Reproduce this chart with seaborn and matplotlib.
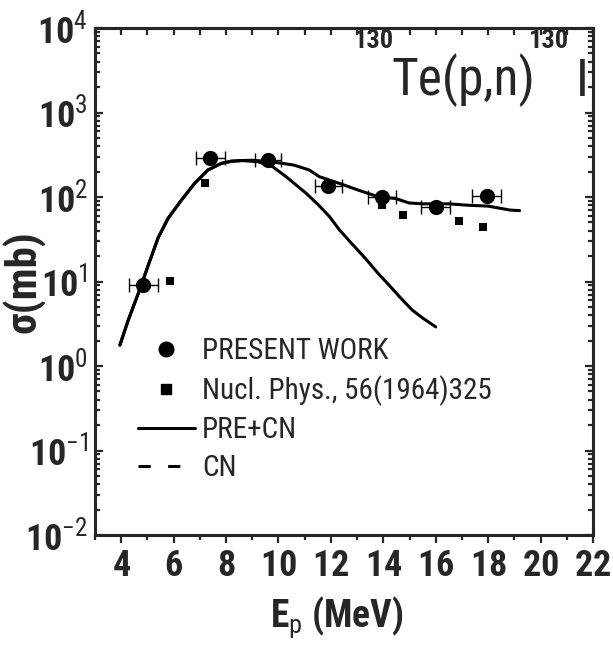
import numpy as np
import matplotlib
matplotlib.use("Agg")
import matplotlib.pyplot as plt
import seaborn as sns
from matplotlib import font_manager
from matplotlib.lines import Line2D
from matplotlib.ticker import LogLocator, MultipleLocator, FuncFormatter, NullFormatter

# ---- data -------------------------------------------------------------
# 130Te(p,n)130I excitation function, this work
present_e = [4.85, 7.4, 9.6, 11.9, 13.95, 16.0, 17.95]          # MeV
present_de = [0.55, 0.55, 0.50, 0.52, 0.55, 0.55, 0.55]         # MeV
present_sigma = [9.1, 287, 272, 136, 99, 77, 103]               # mb

# earlier measurement, Nucl. Phys. 56 (1964) 325
lit_e = [5.85, 7.2, 13.95, 14.75, 16.9, 17.8]
lit_sigma = [10.2, 148, 80, 62, 52, 44.5]

# model calculation: pre-equilibrium + compound nucleus
pre_cn_e = [3.95, 4.27, 4.65, 5.03, 5.41, 5.79, 6.3, 6.8, 7.31, 7.82, 8.2, 8.6,
            9.0, 9.65, 10.16, 10.6, 11.17, 11.56, 12.32, 13.2, 13.84, 14.47,
            14.98, 15.5, 16.5, 17.2, 18.0, 18.84, 19.2]
pre_cn_sigma = [1.77, 3.5, 7.2, 15.5, 33, 56, 92, 145, 209, 250, 265, 270,
                272, 262, 250, 238, 209, 174, 145, 116, 100, 96,
                85, 83, 83, 80, 78, 70, 69]

# model calculation: compound nucleus only
cn_e = [3.95, 4.27, 4.65, 5.03, 5.41, 5.79, 6.3, 6.8, 7.31, 7.82, 8.2, 8.6,
        9.2, 9.78, 10.29, 11.05, 11.5, 11.94, 12.32, 12.8, 13.3, 13.8, 14.3,
        14.7, 15.1, 15.5, 16.0]
cn_sigma = [1.77, 3.5, 7.2, 15.5, 33, 56, 92, 145, 209, 250, 265, 270,
            262, 228, 174, 111, 82, 59, 41, 28, 19, 12.5, 8.5,
            6.2, 4.6, 3.7, 2.9]

legend_labels = ["PRESENT WORK", "Nucl. Phys., 56(1964)325", "PRE+CN", "CN"]
x_label = r"$\mathbf{E}_{\mathrm{p}}$ (MeV)"
y_label = "σ(mb)"

# ---- style ------------------------------------------------------------
sns.set_style("ticks")
names = {f.name for f in font_manager.fontManager.ttflist}
narrow_choices = ["Liberation Sans Narrow", "Arial Narrow", "Roboto Condensed",
                  "Open Sans Condensed", "Nimbus Sans Narrow"]
family = next((n for n in narrow_choices if n in names), None)
if family is not None:
    fs = dict(tick=26, legend=21, title=37, sup=19, xlab=27, ylab=31)
else:
    family = "Liberation Sans"
    fs = dict(tick=23, legend=18.5, title=33, sup=16, xlab=23.5, ylab=26.5)
plt.rcParams["font.family"] = [family, "DejaVu Sans"]
plt.rcParams["mathtext.fontset"] = "custom"
plt.rcParams["mathtext.rm"] = family
plt.rcParams["mathtext.bf"] = f"{family}:bold"
plt.rcParams["mathtext.it"] = f"{family}:italic"

fig = plt.figure(figsize=(6.13, 6.54), dpi=100)
ax = fig.add_axes([95 / 613, 1 - 535 / 654, 498 / 613, 507 / 654])
ax.set_yscale("log")

lw = 2.2
sns.lineplot(x=pre_cn_e, y=pre_cn_sigma, ax=ax, color="black", lw=lw,
             sort=False, estimator=None, zorder=2)
sns.lineplot(x=cn_e, y=cn_sigma, ax=ax, color="black", lw=lw,
             sort=False, estimator=None, zorder=2)
ax.errorbar(present_e, present_sigma, xerr=present_de, fmt="none",
            ecolor="black", elinewidth=1.0, capsize=5, capthick=1.0, zorder=3)
sns.scatterplot(x=lit_e, y=lit_sigma, ax=ax, marker="s", s=40, color="black",
                edgecolor="black", linewidth=0, zorder=4)
sns.scatterplot(x=present_e, y=present_sigma, ax=ax, marker="o", s=120,
                color="black", edgecolor="black", linewidth=0, zorder=5)

ax.set_xlim(3, 22)
ax.set_ylim(1e-2, 1e4)

# ---- axes, ticks ------------------------------------------------------
for sp in ax.spines.values():
    sp.set_linewidth(2.2)
    sp.set_visible(True)

ax.xaxis.set_major_locator(MultipleLocator(2))
ax.xaxis.set_minor_locator(MultipleLocator(1))
ax.xaxis.set_major_formatter(FuncFormatter(lambda v, p: rf"$\mathbf{{{int(round(v))}}}$"))
ax.tick_params(axis="x", which="major", direction="out", length=6, width=1.6,
               labelsize=fs["tick"], pad=3, bottom=True, top=False)
ax.tick_params(axis="x", which="minor", direction="out", length=3.6, width=1.6,
               bottom=True, top=False)

ax.yaxis.set_major_locator(LogLocator(base=10, numticks=20))
ax.yaxis.set_minor_locator(LogLocator(base=10, subs=np.arange(2, 10), numticks=20))
ax.yaxis.set_minor_formatter(NullFormatter())
ax.yaxis.set_major_formatter(FuncFormatter(
    lambda v, p: rf"$\mathbf{{10}}^{{{int(round(np.log10(v)))}}}$"))
ax.tick_params(axis="y", which="major", direction="in", length=6, width=1.6,
               labelsize=fs["tick"], pad=5, left=True, right=False)
ax.tick_params(axis="y", which="minor", direction="in", length=3.6, width=1.6,
               left=True, right=False)

top = ax.secondary_xaxis("top")
top.xaxis.set_major_locator(MultipleLocator(1))
top.xaxis.set_major_formatter(NullFormatter())
top.tick_params(axis="x", which="both", direction="in", length=5, width=1.6)
top.spines["top"].set_linewidth(2.2)

right = ax.secondary_yaxis("right")
right.set_yscale("log")
right.yaxis.set_major_locator(LogLocator(base=10, numticks=20))
right.yaxis.set_minor_locator(LogLocator(base=10, subs=np.arange(2, 10), numticks=20))
right.yaxis.set_major_formatter(NullFormatter())
right.yaxis.set_minor_formatter(NullFormatter())
right.tick_params(axis="y", which="major", direction="in", length=6, width=1.6)
right.tick_params(axis="y", which="minor", direction="in", length=3.6, width=1.6)
right.spines["right"].set_linewidth(2.2)

ax.set_xlabel(x_label, fontsize=fs["xlab"], fontweight="bold")
ax.xaxis.set_label_coords(0.485, -0.117)
ax.set_ylabel(y_label, fontsize=fs["ylab"], fontweight="bold")
ax.yaxis.set_label_coords(-0.10, 0.5)

# ---- reaction label ---------------------------------------------------
t_i = ax.text(0.991, 0.866, "I", transform=ax.transAxes, ha="right",
              va="baseline", fontsize=fs["title"])
t_sup2 = ax.annotate("130", xy=(0, 1), xycoords=t_i, xytext=(-5, 3),
                     textcoords="offset points", ha="right", va="bottom",
                     fontsize=fs["sup"], fontweight="bold")
t_main = ax.annotate("Te(p,n)", xy=(0, 0), xycoords=(t_sup2, t_i), xytext=(5, 0),
                     textcoords="offset points", ha="right", va="bottom",
                     fontsize=fs["title"])
ax.annotate("130", xy=(0, 0), xycoords=(t_main, t_sup2), xytext=(2, 0),
            textcoords="offset points", ha="right", va="bottom",
            fontsize=fs["sup"], fontweight="bold")

# ---- legend -----------------------------------------------------------
handles = [
    Line2D([], [], ls="none", marker="o", color="black", markersize=10.5),
    Line2D([], [], ls="none", marker="s", color="black", markersize=7),
    Line2D([], [], color="black", lw=lw),
    Line2D([], [], color="black", lw=lw, dashes=(4, 5.7)),
]
leg_px = fs["legend"] * 100 / 72
ax.legend(handles, legend_labels, loc="upper left", bbox_to_anchor=(0.086, 0.39),
          frameon=False, handlelength=57 / leg_px, handletextpad=7 / leg_px,
          labelspacing=37.5 / leg_px - 0.94, borderpad=0, borderaxespad=0,
          fontsize=fs["legend"])

fig.savefig("out.png", dpi=100)
